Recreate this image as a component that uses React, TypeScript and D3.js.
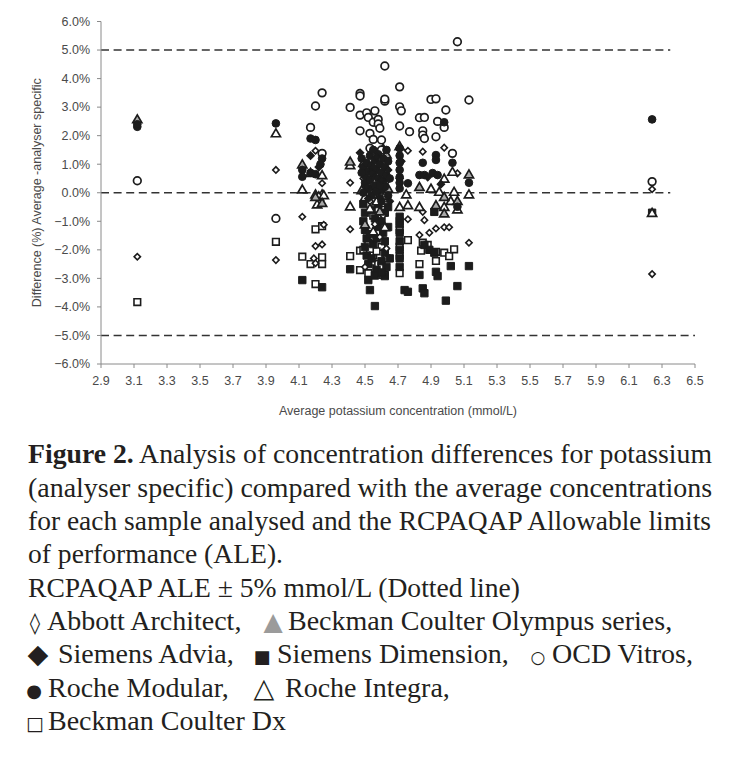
import React from "react";
import * as d3 from "d3";

// ---- data: [average concentration (mmol/L), difference (%)] ----
const abbottArchitect: [number, number][] = [
  [3.12, -2.24], [3.96, 0.8], [3.96, -2.36],
  [4.2, 1.47], [4.24, 0.33], [4.12, -0.84], [4.25, -1.12], [4.2, -1.87], [4.24, -1.81], [4.19, -2.3], [4.2, -2.47],
  [4.41, 0.35], [4.41, -1.28],
  [4.49, 0.5], [4.53, -0.3], [4.56, -1.1], [4.59, -1.55], [4.61, -0.8], [4.5, -2.6], [4.63, 0.4], [4.58, 1.45], [4.63, -1.95],
  [4.76, 1.47], [4.85, 1.44], [4.98, 1.58], [5.06, 0.68], [4.85, -0.67], [4.86, -0.96], [4.76, -0.93],
  [4.83, -1.48], [4.89, -1.4], [4.93, -1.25], [4.98, -1.21], [5.01, -1.21], [5.13, -1.75],
  [6.24, 0.12], [6.24, -2.85],
];
const beckmanOlympus: [number, number][] = [
  [3.12, 2.58], [4.12, 1.0], [4.2, -0.14], [4.24, -0.35], [4.41, 1.1],
  [4.48, 0.1], [4.55, -0.05], [4.6, 0.3], [4.64, 0.15], [4.59, -0.65], [4.63, 1.35], [4.5, -1.1],
  [4.71, 1.64], [4.83, 0.21], [4.98, -0.14], [5.13, 0.65], [4.93, -0.43], [5.06, -0.28], [4.98, -0.72],
];
const siemensAdvia: [number, number][] = [
  [4.51, 0.2], [4.54, 0.7], [4.57, 1.25], [4.6, 0.45], [4.52, -0.2], [4.59, -0.15], [4.64, 0.8], [4.65, -0.3],
  [4.71, 0.5], [4.72, 1.1], [4.88, 0.55], [4.96, 0.3], [4.22, 0.9], [4.17, 1.3], [4.47, 1.4],
];
const siemensDimension: [number, number][] = [
  [4.12, -3.06], [4.24, -3.31], [4.41, -2.68],
  [4.52, -3.06], [4.53, -3.41], [4.56, -3.97], [4.62, -2.92], [4.74, -3.41],
  [4.49, -0.4], [4.5, -0.7], [4.49, -1.0], [4.5, -1.3], [4.51, -1.6], [4.5, -1.9], [4.51, -2.2], [4.52, -2.5],
  [4.54, -0.6], [4.56, -0.9], [4.58, -1.2], [4.57, -2.7], [4.6, -2.4], [4.62, -2.1], [4.62, -1.7], [4.61, -1.4],
  [4.6, -1.0], [4.62, -0.7], [4.58, -0.4], [4.55, -1.8], [4.54, -2.3], [4.63, -2.6], [4.56, -2.9], [4.6, -2.8],
  [4.64, -1.2], [4.65, -2.3], [4.64, -0.5], [4.53, -1.45], [4.57, -1.6],
  [4.71, -0.84], [4.71, -1.1], [4.71, -1.4], [4.71, -1.7], [4.71, -2.0], [4.71, -2.3], [4.71, -2.6],
  [4.86, -1.83], [4.89, -2.0], [4.92, -2.1], [4.83, -2.88], [4.93, -2.77], [4.94, -2.92], [5.02, -2.57], [5.13, -2.57],
  [4.76, -3.47], [4.85, -3.35], [4.86, -3.52], [5.06, -3.27], [4.99, -3.78], [4.92, -0.67],
  [6.24, -0.7],
];
const ocdVitros: [number, number][] = [
  [3.12, 0.42], [3.96, -0.9],
  [4.17, 2.29], [4.2, 3.04], [4.24, 3.5], [4.24, 1.38],
  [4.41, 2.99], [4.47, 3.48], [4.47, 3.39], [4.47, 2.72], [4.47, 2.17],
  [4.51, 2.8], [4.56, 2.87], [4.52, 2.64], [4.55, 2.47], [4.58, 2.57], [4.58, 2.41], [4.59, 2.26], [4.53, 2.08],
  [4.55, 1.87], [4.53, 1.56], [4.6, 1.85], [4.62, 3.21], [4.62, 3.28], [4.62, 4.44], [4.6, 1.5],
  [4.71, 3.71], [4.71, 3.01], [4.72, 2.87], [4.71, 2.34], [4.77, 2.14],
  [4.83, 2.63], [4.86, 2.64], [4.9, 3.27], [4.93, 3.29], [4.94, 2.5], [4.98, 2.29], [4.99, 2.9],
  [4.85, 2.17], [4.85, 2.02], [4.86, 1.9], [4.93, 1.96], [5.03, 1.38], [5.06, 5.29], [5.13, 3.25],
  [6.24, 0.39],
];
const rocheModular: [number, number][] = [
  [3.12, 2.31], [3.12, 2.4], [3.96, 2.43],
  [4.17, 1.9], [4.2, 1.85], [4.24, 1.2], [4.23, 1.0], [4.12, 0.8], [4.12, 0.56], [4.17, 0.7], [4.2, 0.65],
  [4.48, 1.2], [4.49, 0.9], [4.5, 0.6], [4.5, 0.35], [4.51, 1.05], [4.52, 0.75], [4.52, 0.15], [4.53, 1.3],
  [4.53, 0.45], [4.54, 0.95], [4.55, 0.6], [4.55, 1.5], [4.56, 0.25], [4.56, 1.15], [4.57, 0.8], [4.58, 0.5],
  [4.58, 1.35], [4.59, 1.0], [4.6, 0.7], [4.6, 0.1], [4.61, 1.2], [4.61, 0.4], [4.62, 0.9], [4.63, 0.6],
  [4.63, 1.5], [4.6, -0.3], [4.54, -0.1], [4.57, 0.05], [4.49, 0.0], [4.62, 0.2], [4.64, 1.1],
  [4.65, 0.5], [4.64, -0.1], [4.48, 0.7], [4.55, 0.85], [4.59, 0.25],
  [4.71, 1.56], [4.71, 1.3], [4.71, 1.05], [4.71, 0.8], [4.71, 0.55], [4.71, 0.35], [4.71, 0.15], [4.76, 0.33],
  [4.85, 1.05], [4.93, 1.32], [4.93, 1.15], [5.03, 1.05], [4.83, 0.62], [4.86, 0.62], [4.91, 0.69], [4.94, 0.62],
  [5.13, 0.35], [4.98, 2.47], [5.06, -0.49],
  [6.24, 2.57],
];
const rocheIntegra: [number, number][] = [
  [3.96, 2.09], [4.17, 0.7], [4.24, 0.62], [4.12, 0.12], [4.2, -0.05], [4.24, -0.05], [4.22, -0.12], [4.25, -0.08], [4.21, -0.4],
  [4.41, 0.97], [4.41, -0.47],
  [4.5, -0.15], [4.52, 0.25], [4.57, -0.3], [4.62, -0.1], [4.53, -0.55], [4.49, 1.05], [4.61, 1.55], [4.55, -1.35], [4.62, -1.2],
  [4.75, -0.05], [4.71, -0.49], [4.76, -0.43], [4.9, 0.15], [4.95, 0.04], [5.04, 0.04], [5.13, -0.05], [4.98, 0.5],
  [5.03, 0.74], [4.83, -0.49], [4.98, -0.49], [5.02, -0.28], [5.06, -0.58],
  [6.24, -0.7],
];
const beckmanDx: [number, number][] = [
  [3.12, -3.83], [3.96, -1.72],
  [4.2, -1.28], [4.24, -1.17], [4.12, -2.24], [4.17, -2.5], [4.24, -2.26], [4.24, -2.5], [4.2, -3.2],
  [4.41, -2.22], [4.47, -2.71], [4.47, -2.03],
  [4.49, -2.0], [4.52, -1.75], [4.55, -2.2], [4.58, -2.5], [4.53, -2.65], [4.6, -1.9], [4.63, -2.3], [4.57, -2.05],
  [4.55, -0.8], [4.62, -0.6], [4.52, -2.82], [4.6, -2.57], [4.61, -2.88],
  [4.71, -1.0], [4.71, -1.3], [4.71, -1.9], [4.71, -2.2], [4.71, -2.82], [4.62, -2.88],
  [4.76, -1.66], [4.85, -1.75], [4.84, -2.03], [4.88, -1.83], [4.93, -2.07], [4.98, -2.1], [5.01, -2.22], [5.04, -1.98],
  [4.93, -2.39], [4.83, -2.5],
];

const xTicks = [2.9, 3.1, 3.3, 3.5, 3.7, 3.9, 4.1, 4.3, 4.5, 4.7, 4.9, 5.1, 5.3, 5.5, 5.7, 5.9, 6.1, 6.3, 6.5];
const yTicks = [6, 5, 4, 3, 2, 1, 0, -1, -2, -3, -4, -5, -6];
const limitLines: { y: number; xEnd: number }[] = [
  { y: 5, xEnd: 6.35 },
  { y: 0, xEnd: 6.35 },
  { y: -5, xEnd: 6.5 },
];

const captionLines = [
  "(analyser specific) compared with the average concentrations",
  "for each sample analysed and the RCPAQAP Allowable limits",
  "of performance (ALE).",
  "RCPAQAP ALE \u00b1 5% mmol/L (Dotted line)",
];

const W = 735;
const H = 757;
const x = d3.scaleLinear().domain([2.9, 6.5]).range([101, 695]);
const y = d3.scaleLinear().domain([-6, 6]).range([364, 21.5]);

const INK = "#1c1c1c";
const sq = (area: number) => d3.symbol().type(d3.symbolSquare).size(area)() as string;
const circ = d3.symbol().type(d3.symbolCircle).size(46)() as string;
const tri = d3.symbol().type(d3.symbolTriangle).size(36)() as string;

type Series = {
  data: [number, number][];
  path: string;
  fill: string;
  stroke: string;
  sw: number;
  rot?: number;
  dy?: number;
};

const series: Series[] = [
  { data: beckmanDx, path: sq(44), fill: "#fff", stroke: INK, sw: 1.6 },
  { data: siemensDimension, path: sq(54), fill: INK, stroke: INK, sw: 1 },
  { data: abbottArchitect, path: sq(20), fill: "#fff", stroke: INK, sw: 1.6, rot: 45 },
  { data: rocheIntegra, path: tri, fill: "#fff", stroke: INK, sw: 1.7, dy: 1 },
  { data: beckmanOlympus, path: tri, fill: "#a8a8a8", stroke: INK, sw: 1.7, dy: 1 },
  { data: ocdVitros, path: circ, fill: "#fff", stroke: INK, sw: 1.7 },
  { data: rocheModular, path: circ, fill: INK, stroke: INK, sw: 1 },
  { data: siemensAdvia, path: sq(30), fill: INK, stroke: INK, sw: 1, rot: 45 },
];

const axisColor = "#8a8a8a";
const labelColor = "#4a4a4a";
const sans = "'Liberation Sans', Arial, sans-serif";
const serif = "'Liberation Serif', 'Times New Roman', serif";
const symFont = "'DejaVu Sans', 'Liberation Serif', sans-serif";

type Sym = { ch: string; cx: number; size: number; fill?: string };
type Piece = { text: string; x: number };
type LegendLine = { baseline: number; syms: Sym[]; pieces: Piece[] };

const legendLines: LegendLine[] = [
  {
    baseline: 630,
    syms: [
      { ch: "\u25CA", cx: 35, size: 21 },
      { ch: "\u25B2", cx: 273, size: 25, fill: "#9b9b9b" },
    ],
    pieces: [
      { text: "Abbott Architect,", x: 47 },
      { text: "Beckman Coulter Olympus series,", x: 288 },
    ],
  },
  {
    baseline: 663,
    syms: [
      { ch: "\u25C6", cx: 38, size: 27 },
      { ch: "\u25A0", cx: 262, size: 18 },
      { ch: "\u25CB", cx: 538, size: 17 },
    ],
    pieces: [
      { text: "Siemens Advia,", x: 58 },
      { text: "Siemens Dimension,", x: 277 },
      { text: "OCD Vitros,", x: 552 },
    ],
  },
  {
    baseline: 697,
    syms: [
      { ch: "\u25CF", cx: 34, size: 18 },
      { ch: "\u25B3", cx: 264, size: 27 },
    ],
    pieces: [
      { text: "Roche Modular,", x: 48 },
      { text: "Roche Integra,", x: 285 },
    ],
  },
  {
    baseline: 730,
    syms: [{ ch: "\u25A1", cx: 35, size: 19 }],
    pieces: [{ text: "Beckman Coulter Dx", x: 48 }],
  },
];

export default function App() {
  return (
    <svg
      width={W}
      height={H}
      viewBox={`0 0 ${W} ${H}`}
      style={{ position: "absolute", left: 0, top: 0, background: "#fff" }}
    >
      <rect x={0} y={0} width={W} height={H} fill="#fff" />
      {/* limit lines */}
      {limitLines.map((l) => (
        <line
          key={l.y}
          x1={x(2.9)}
          x2={x(l.xEnd)}
          y1={y(l.y)}
          y2={y(l.y)}
          stroke="#333"
          strokeWidth={1.4}
          strokeDasharray="8,4.6"
        />
      ))}
      {/* axes */}
      <line x1={x(2.9)} x2={x(2.9)} y1={y(6)} y2={y(-6)} stroke={axisColor} strokeWidth={1} />
      <line x1={x(2.9)} x2={x(6.5)} y1={y(-6)} y2={y(-6)} stroke={axisColor} strokeWidth={1} />
      {yTicks.map((t) => (
        <g key={t}>
          <line x1={x(2.9) - 4} x2={x(2.9)} y1={y(t)} y2={y(t)} stroke={axisColor} />
          <text
            x={x(2.9) - 11}
            y={y(t) + 4.3}
            textAnchor="end"
            fontFamily={sans}
            fontSize={12.5}
            fill={labelColor}
          >
            {d3.format(".1f")(t)}%
          </text>
        </g>
      ))}
      {xTicks.map((t) => (
        <g key={t}>
          <line x1={x(t)} x2={x(t)} y1={y(-6)} y2={y(-6) + 4} stroke={axisColor} />
          <text
            x={x(t)}
            y={y(-6) + 21}
            textAnchor="middle"
            fontFamily={sans}
            fontSize={12.5}
            fill={labelColor}
          >
            {d3.format(".1f")(t)}
          </text>
        </g>
      ))}
      <text
        x={(x(2.9) + x(6.5)) / 2}
        y={415}
        textAnchor="middle"
        fontFamily={sans}
        fontSize={12.5}
        fill={labelColor}
      >
        Average potassium concentration (mmol/L)
      </text>
      <text
        transform={`translate(41, ${(y(6) + y(-6)) / 2}) rotate(-90)`}
        textAnchor="middle"
        fontFamily={sans}
        fontSize={12.5}
        fill={labelColor}
      >
        Difference (%) Average -analyser specific
      </text>
      {/* points */}
      {series.map((s, i) => (
        <g key={i}>
          {s.data.map((d, j) => (
            <path
              key={j}
              d={s.path}
              transform={`translate(${x(d[0])},${y(d[1]) + (s.dy || 0)})${s.rot ? ` rotate(${s.rot})` : ""}`}
              fill={s.fill}
              stroke={s.stroke}
              strokeWidth={s.sw}
            />
          ))}
        </g>
      ))}
      {/* caption */}
      <g fontFamily={serif} fontSize={28} fill="#231f20">
        <text x={28} y={463} textLength={684} lengthAdjust="spacingAndGlyphs">
          <tspan fontWeight="bold">Figure 2.</tspan> Analysis of concentration differences for potassium
        </text>
        <text x={28} y={496.5} textLength={684} lengthAdjust="spacingAndGlyphs">
          {captionLines[0]}
        </text>
        <text x={28} y={530} textLength={683} lengthAdjust="spacingAndGlyphs">
          {captionLines[1]}
        </text>
        <text x={28} y={563} textLength={255} lengthAdjust="spacingAndGlyphs">
          {captionLines[2]}
        </text>
        <text x={28} y={597} textLength={492} lengthAdjust="spacingAndGlyphs">
          {captionLines[3]}
        </text>
        {legendLines.map((ln, i) => (
          <g key={i}>
            {ln.syms.map((s, j) => (
              <text
                key={"s" + j}
                x={s.cx}
                y={ln.baseline}
                textAnchor="middle"
                fontFamily={symFont}
                fontSize={s.size}
                fill={s.fill || "#231f20"}
              >
                {s.ch}
              </text>
            ))}
            {ln.pieces.map((p, j) => (
              <text key={"p" + j} x={p.x} y={ln.baseline}>
                {p.text}
              </text>
            ))}
          </g>
        ))}
      </g>
    </svg>
  );
}
